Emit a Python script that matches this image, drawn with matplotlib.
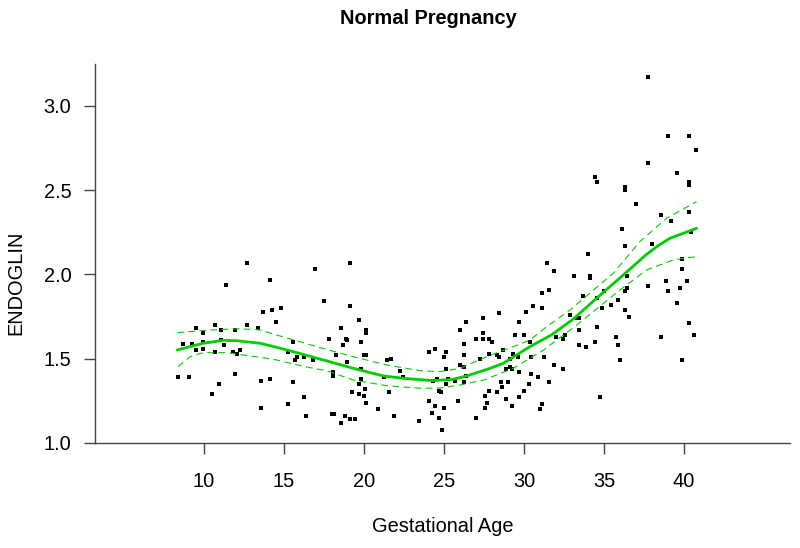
import matplotlib
matplotlib.use("Agg")
import matplotlib.pyplot as plt

plt.rcParams['font.family'] = ['Liberation Sans', 'DejaVu Sans']

# ---- scatter data (gestational age, endoglin) ----
age = [8.38, 9.09, 8.66, 9.25, 9.52, 9.53, 9.96, 9.96, 9.96, 10.52, 10.67, 10.67, 10.96, 11.06, 11.08,
       11.23, 11.38, 11.83, 11.94, 11.94, 12.09, 12.23, 12.69, 12.69, 13.38, 13.54, 13.54, 13.68, 14.13,
       14.13, 14.25, 14.53, 14.80, 15.27, 15.27, 15.55, 15.56, 15.69, 15.84, 16.25, 16.25, 16.39, 16.83,
       16.96, 17.53, 17.81,
       18.08, 18.09, 18.03, 18.13, 18.26, 18.56, 18.56, 18.70, 18.88, 18.96, 18.96, 18.83, 19.14, 19.14,
       19.14, 19.25, 19.44, 19.71, 19.71, 19.71, 19.83, 19.83, 19.83, 20.02, 20.01, 20.11, 20.13, 20.13,
       20.09, 20.13, 20.86, 21.26, 21.41, 21.69, 21.56, 21.86, 22.26, 22.43, 23.41, 24.09, 24.09,
       24.28, 24.29, 24.54, 24.41, 24.42, 24.72, 24.81, 24.71, 24.86, 25.00, 25.01, 25.13, 25.13, 25.13,
       25.28, 25.71, 25.86, 26.00, 26.00, 26.28, 26.27, 26.27, 26.28, 26.41, 26.41, 26.98, 26.98, 27.26,
       27.42, 27.44, 27.44, 27.56, 27.56, 27.71, 27.83, 27.83, 27.83, 28.00, 28.29, 28.29, 28.42, 28.46,
       28.56, 28.64, 28.71, 28.88, 28.89, 28.98, 29.13, 29.13, 29.25, 29.27, 29.29, 29.42, 29.63, 29.71,
       29.71, 29.71, 30.02, 30.02, 30.14, 30.29,
       30.38, 30.42, 30.42, 30.56, 30.88, 31.00, 31.13, 31.13, 31.13, 31.25, 31.42, 31.58, 31.56, 31.86,
       31.86, 32.00, 32.42, 32.42, 32.56, 32.88, 33.14, 33.31, 33.44, 33.44, 33.42, 33.71, 33.88, 34.00,
       34.14, 34.14, 34.44, 34.46, 34.58, 34.56, 34.58, 34.75, 34.88, 35.00, 35.44, 35.75, 35.86, 35.88,
       36.00, 36.13, 36.29, 36.31, 36.31, 36.31, 36.31, 36.42, 36.46, 36.54,
       37.00, 37.73, 37.73, 37.73, 38.02, 38.58, 38.58, 38.89, 39.02, 39.02, 39.17, 39.58, 39.58, 39.75,
       39.89, 39.89, 39.89, 40.17, 40.31, 40.31, 40.31, 40.31, 40.31, 40.46, 40.61, 40.73]
endoglin = [1.39, 1.39, 1.59, 1.59, 1.68, 1.55, 1.65, 1.60, 1.56, 1.29, 1.70, 1.54, 1.35, 1.67, 1.61,
            1.58, 1.94, 1.54, 1.67, 1.41, 1.53, 1.55, 2.07, 1.70, 1.68, 1.37, 1.21, 1.78, 1.97,
            1.38, 1.79, 1.72, 1.80, 1.54, 1.23, 1.60, 1.36, 1.49, 1.51, 1.51, 1.27, 1.16, 1.49,
            2.03, 1.84, 1.62,
            1.42, 1.40, 1.17, 1.17, 1.52, 1.68, 1.12, 1.58, 1.62, 1.61, 1.48, 1.16, 2.07, 1.81,
            1.14, 1.30, 1.14, 1.73, 1.35, 1.29, 1.60, 1.44, 1.38, 1.52, 1.28, 1.52, 1.67, 1.65,
            1.32, 1.24, 1.20, 1.39, 1.49, 1.50, 1.30, 1.16, 1.43, 1.39, 1.13, 1.54, 1.25,
            1.18, 1.37, 1.38, 1.56, 1.22, 1.31, 1.30, 1.15, 1.08, 1.51, 1.21, 1.54, 1.44, 1.35,
            1.38, 1.37, 1.25, 1.67, 1.46, 1.59, 1.52, 1.45, 1.36, 1.72, 1.40, 1.62, 1.15, 1.50,
            1.74, 1.65, 1.62, 1.28, 1.21, 1.24, 1.62, 1.53, 1.31, 1.60, 1.52, 1.30, 1.77, 1.51,
            1.36, 1.33, 1.55, 1.26, 1.44, 1.36, 1.50, 1.45, 1.44, 1.22, 1.53, 1.64, 1.51, 1.72,
            1.42, 1.27, 1.64, 1.31, 1.78, 1.35,
            1.60, 1.51, 1.41, 1.81, 1.39, 1.20, 1.23, 1.89, 1.80, 1.51, 2.07, 1.91, 1.36, 2.02,
            1.46, 1.63, 1.62, 1.44, 1.64, 1.76, 1.99, 1.74, 1.74, 1.67, 1.58, 1.87, 1.57, 2.12,
            1.99, 1.98, 2.58, 1.60, 2.55, 1.69, 1.86, 1.27, 1.80, 1.90, 1.82, 1.63, 1.85, 1.58,
            1.49, 2.27, 2.17, 2.52, 2.50, 1.90, 1.79, 1.92, 1.99, 1.75,
            2.42, 3.17, 2.66, 1.93, 2.18, 2.35, 1.63, 1.96, 2.82, 1.90, 2.32, 2.60, 1.83, 1.92,
            2.09, 2.03, 1.49, 1.96, 2.82, 2.55, 2.53, 2.37, 1.71, 2.25, 1.64, 2.74]

# ---- fitted smooth and its confidence band ----
fit_age = [8.33, 9.96, 11.21, 12.04, 13.50, 14.54, 15.58, 16.83, 17.88, 19.33, 21.21, 22.46, 24.33,
           25.58, 26.42, 27.88, 28.71, 30.38, 31.70, 33.08, 34.54, 36.21, 37.67, 38.40, 39.13, 40.79]
fit_val = [1.552, 1.592, 1.609, 1.607, 1.592, 1.568, 1.542, 1.509, 1.482, 1.443, 1.398, 1.384, 1.370,
           1.378, 1.398, 1.443, 1.473, 1.572, 1.640, 1.735, 1.859, 1.997, 2.120, 2.172, 2.215, 2.274]

up_age = [8.33, 10.48, 12.25, 13.50, 14.75, 16.00, 17.25, 19.33, 21.42, 23.50, 24.75, 26.00, 27.67,
          29.33, 30.38, 31.42, 32.88, 34.75, 35.58, 37.25, 38.92, 40.79]
up_val = [1.655, 1.671, 1.678, 1.671, 1.635, 1.601, 1.566, 1.512, 1.463, 1.429, 1.423, 1.443, 1.512,
          1.572, 1.611, 1.690, 1.789, 1.940, 2.007, 2.195, 2.334, 2.432]

lo_age = [8.39, 9.13, 9.96, 11.42, 12.46, 13.50, 14.54, 15.58, 16.83, 17.67, 19.33, 21.42, 23.50,
          24.75, 26.00, 27.50, 29.33, 31.20, 33.30, 36.00, 37.67, 39.33, 40.79]
lo_val = [1.453, 1.512, 1.536, 1.536, 1.522, 1.509, 1.493, 1.469, 1.443, 1.429, 1.374, 1.340, 1.325,
          1.326, 1.344, 1.374, 1.443, 1.550, 1.700, 1.908, 2.027, 2.086, 2.106]

x_ticks = [10, 15, 20, 25, 30, 35, 40]
y_ticks = [1.0, 1.5, 2.0, 2.5, 3.0]
y_tick_labels = ["1.0", "1.5", "2.0", "2.5", "3.0"]

W, H = 800, 548
fig = plt.figure(figsize=(W / 100, H / 100), dpi=100)
ax = fig.add_axes([95 / W, (H - 443) / H, (790 - 95) / W, (443 - 64) / H])

green = '#00CD00'
ax.scatter(age, endoglin, s=5.0, marker='s', color='black', linewidths=0, zorder=3)
ax.plot(fit_age, fit_val, color=green, lw=2.0, solid_capstyle='round', solid_joinstyle='round', zorder=4)
ax.plot(up_age, up_val, color=green, lw=0.8, dashes=(6, 4), zorder=4)
ax.plot(lo_age, lo_val, color=green, lw=0.8, dashes=(6, 4), zorder=4)

ax.set_xlim(3.19, 46.63)
ax.set_ylim(1.0, 3.249)
ax.set_xticks(x_ticks)
ax.set_yticks(y_ticks)
ax.set_yticklabels(y_tick_labels)

for s in ['top', 'right']:
    ax.spines[s].set_visible(False)
for s in ['left', 'bottom']:
    ax.spines[s].set_color('#444444')
    ax.spines[s].set_linewidth(1.0)

ax.tick_params(axis='x', direction='out', length=8, width=1.0, color='#444444',
               pad=13, labelsize=14.4)
ax.tick_params(axis='y', direction='out', length=8, width=1.0, color='#444444',
               pad=9, labelsize=14.4)

fig.text(428 / W, 1 - 18 / H, "Normal Pregnancy", ha='center', va='center',
         fontsize=14.4, fontweight='bold')
fig.text(443 / W, 1 - 527 / H, "Gestational Age", ha='center', va='center', fontsize=14.4)
fig.text(16 / W, 1 - 283 / H, "ENDOGLIN", ha='center', va='center', rotation=90, fontsize=14.4)

fig.savefig("out.png", dpi=100)
